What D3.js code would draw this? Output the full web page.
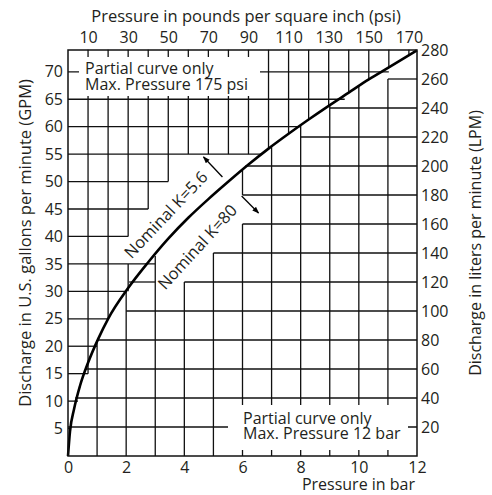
<!DOCTYPE html>
<html>
<head>
<meta charset="utf-8">
<script src="https://cdn.jsdelivr.net/npm/d3@7"></script>
<style>
  body { margin: 0; background: #fff; }
  svg { display: block; }
  text { font-family: "Open Sans", sans-serif; fill: #231f20; }
</style>
</head>
<body>
<svg></svg>
<script>
// Unit conversions used by the two coordinate systems
const psiPerBar = 14.5038;
const lpmPerGpm = 3.78541;

// Tick labels
const psiLabels = [10, 30, 50, 70, 90, 110, 130, 150, 170];
const gpmLabels = [5, 10, 15, 20, 25, 30, 35, 40, 45, 50, 55, 60, 65, 70];
const lpmLabels = [20, 40, 60, 80, 100, 120, 140, 160, 180, 200, 220, 240, 260, 280];
const barLabels = [0, 2, 4, 6, 8, 10, 12];

// Fine grid (psi x GPM), upper left: each line with the spans it is drawn over
const psiLines = [10, 20, 30, 40, 50, 60, 70, 80, 90, 100, 110, 120, 130, 140, 150, 160, 170];
const psiSpans = [ // GPM ranges
  [[15, 74]], [[25, 74]], [[30, 35], [40, 74]], [[45, 74]], [[50, 74]],
  [[55, 74]], [[55, 74]], [[55, 74]], [[55, 74]],
  [[56, 74]], [[58.7, 74]], [[61.3, 74]], [[63.8, 74]], [[66.2, 74]], [[68.6, 74]], [[70.8, 74]], [[73, 74]]
];
const gpmLines = [5, 10, 15, 20, 25, 30, 35, 40, 45, 50, 55, 60, 65, 70];
const gpmSpans = [ // psi ranges
  [[0, 1]], [[0, 5]], [[0, 10]], [[0, 14.5]], [[0, 20]], [[0, 29]], [[0, 43.5]],
  [[0, 30]], [[0, 40]], [[0, 50]], [[0, 96.5]], [[0, 116]], [[0, 138]], [[0, 160]]
];

// Coarse grid (bar x LPM), lower right
const barLines = [1, 2, 3, 4, 5, 6, 7, 8, 9, 10, 11];
const barSpans = [ // LPM ranges
  [[0, 80]], [[0, 114]], [[0, 138]], [[0, 120]], [[0, 140]], [[0, 160], [180, 198]],
  [[0, 213]], [[0, 228]], [[0, 242]], [[0, 255]], [[0, 260]]
];
const lpmLines = [20, 40, 60, 80, 100, 120, 140, 160, 180, 200, 220, 240, 260];
const lpmSpans = [ // bar ranges
  [[0, 12]], [[0.25, 12]], [[0.6, 12]], [[1, 12]], [[2, 12]], [[2.1, 3], [4, 12]],
  [[5, 12]], [[6, 12]], [[6, 12]], [[6.1, 12]], [[8, 12]], [[9, 12]], [[11, 12]]
];

// Discharge curve, nominal K=5.6 (psi, GPM)
const curvePsi = [0, 1, 3, 6, 10, 15, 20, 30, 40, 50, 60, 70, 80, 90, 100, 110, 120, 130, 140, 150, 160, 174];
const curveGpm = [0, 4.5, 8.5, 12.8, 17, 21.3, 25, 30.6, 35.3, 39.6, 43.4, 46.8, 50, 53.1, 56, 58.7, 61.3, 63.8, 66.2, 68.6, 70.8, 73.9];

const svg = d3.select("svg").attr("width", 492).attr("height", 495);

const xBar = d3.scaleLinear().domain([0, 12]).range([68, 417]);
const xPsi = d3.scaleLinear().domain([0, 12 * psiPerBar]).range([68, 417]);
const yLpm = d3.scaleLinear().domain([0, 280]).range([456, 50]);
const yGpm = d3.scaleLinear().domain([0, 280 / lpmPerGpm]).range([456, 50]);

// Grids
const grid = svg.append("g").attr("stroke", "#111").attr("stroke-width", 1.3);

psiLines.forEach((p, i) => psiSpans[i].forEach(([lo, hi]) => {
  grid.append("line").attr("x1", xPsi(p)).attr("x2", xPsi(p)).attr("y1", yGpm(lo)).attr("y2", yGpm(hi));
}));
gpmLines.forEach((g, i) => gpmSpans[i].forEach(([lo, hi]) => {
  grid.append("line").attr("y1", yGpm(g)).attr("y2", yGpm(g)).attr("x1", xPsi(lo)).attr("x2", xPsi(hi));
}));
barLines.forEach((b, i) => barSpans[i].forEach(([lo, hi]) => {
  grid.append("line").attr("x1", xBar(b)).attr("x2", xBar(b)).attr("y1", yLpm(lo)).attr("y2", yLpm(hi));
}));
lpmLines.forEach((l, i) => lpmSpans[i].forEach(([lo, hi]) => {
  grid.append("line").attr("y1", yLpm(l)).attr("y2", yLpm(l)).attr("x1", xBar(lo)).attr("x2", xBar(hi));
}));

// Blank areas behind the two notes
svg.append("rect").attr("x", 79).attr("y", 57).attr("width", 181).attr("height", 39).attr("fill", "#fff");
svg.append("rect").attr("x", 228).attr("y", 405).attr("width", 180).attr("height", 45).attr("fill", "#fff");

// Curve
svg.append("path")
  .datum(curvePsi.map((p, i) => [p, curveGpm[i]]))
  .attr("fill", "none")
  .attr("stroke", "#000")
  .attr("stroke-width", 2.6)
  .attr("d", d3.line().x(d => xPsi(d[0])).y(d => yGpm(d[1])).curve(d3.curveMonotoneX));

// Frame
svg.append("rect")
  .attr("x", 68).attr("y", 50).attr("width", 349).attr("height", 406)
  .attr("fill", "none").attr("stroke", "#111").attr("stroke-width", 1.5);

// Axes (labels only; the grid lines act as ticks)
function styleAxis(g) {
  g.select(".domain").remove();
  g.selectAll("line").remove();
  g.selectAll("text").style("font-size", "16px").style("font-family", "'Open Sans', sans-serif").attr("fill", "#231f20");
}
svg.append("g").attr("transform", "translate(0,50)")
  .call(d3.axisTop(xPsi).tickValues(psiLabels).tickSize(0).tickPadding(7)).call(styleAxis);
svg.append("g").attr("transform", "translate(0,456)")
  .call(d3.axisBottom(xBar).tickValues(barLabels).tickSize(0).tickPadding(5.5)).call(styleAxis);
svg.append("g").attr("transform", "translate(68,0)")
  .call(d3.axisLeft(yGpm).tickValues(gpmLabels).tickSize(0).tickPadding(5)).call(styleAxis);
svg.append("g").attr("transform", "translate(417,0)")
  .call(d3.axisRight(yLpm).tickValues(lpmLabels).tickSize(0).tickPadding(4)).call(styleAxis);

// Axis titles
svg.append("text").attr("x", 246).attr("y", 22).attr("text-anchor", "middle")
  .style("font-size", "16.5px").text("Pressure in pounds per square inch (psi)");
svg.append("text").attr("x", 415).attr("y", 490).attr("text-anchor", "end")
  .style("font-size", "16px").text("Pressure in bar");
svg.append("text").attr("transform", "translate(31,243) rotate(-90)").attr("text-anchor", "middle")
  .style("font-size", "16.5px").text("Discharge in U.S. gallons per minute (GPM)");
svg.append("text").attr("transform", "translate(481,243) rotate(-90)").attr("text-anchor", "middle")
  .style("font-size", "16px").text("Discharge in liters per minute (LPM)");

// Notes
const noteTop = svg.append("text").style("font-size", "16px");
noteTop.append("tspan").attr("x", 85).attr("y", 74).text("Partial curve only");
noteTop.append("tspan").attr("x", 85).attr("y", 90).text("Max. Pressure 175 psi");
const noteBot = svg.append("text").style("font-size", "16px");
noteBot.append("tspan").attr("x", 243).attr("y", 424).text("Partial curve only");
noteBot.append("tspan").attr("x", 243).attr("y", 439).text("Max. Pressure 12 bar");

// Curve labels
svg.append("text")
  .attr("transform", `translate(${xBar(2.18)},${yLpm(135.6)}) rotate(-46.5)`)
  .style("font-size", "16.5px").text("Nominal K=5.6");
svg.append("text")
  .attr("transform", `translate(${xBar(3.34)},${yLpm(114)}) rotate(-47.5)`)
  .style("font-size", "16.5px").text("Nominal K=80");

// Arrows
svg.append("defs").append("marker")
  .attr("id", "head").attr("viewBox", "0 0 8 6").attr("refX", 7).attr("refY", 3)
  .attr("markerWidth", 7).attr("markerHeight", 5.5).attr("markerUnits", "userSpaceOnUse")
  .attr("orient", "auto")
  .append("path").attr("d", "M0,0L8,3L0,6z").attr("fill", "#000");
const arrows = [
  {from: [5.31, 192.4], to: [4.66, 206.2]},
  {from: [5.97, 179.3], to: [6.55, 167.6]}
];
arrows.forEach(a => {
  svg.append("line")
    .attr("x1", xBar(a.from[0])).attr("y1", yLpm(a.from[1]))
    .attr("x2", xBar(a.to[0])).attr("y2", yLpm(a.to[1]))
    .attr("stroke", "#000").attr("stroke-width", 1.3)
    .attr("marker-end", "url(#head)");
});
</script>
</body>
</html>
